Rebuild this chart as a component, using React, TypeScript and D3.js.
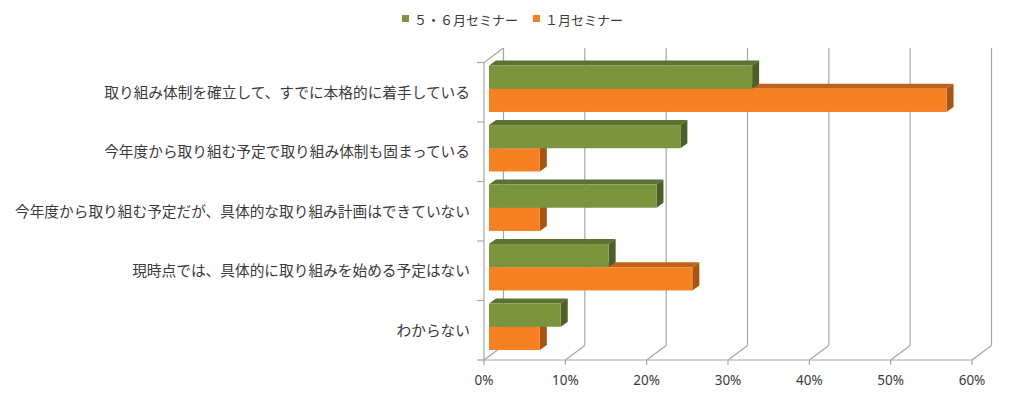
import React from "react";
import * as d3 from "d3";

const categories = [
  "取り組み体制を確立して、すでに本格的に着手している",
  "今年度から取り組む予定で取り組み体制も固まっている",
  "今年度から取り組む予定だが、具体的な取り組み計画はできていない",
  "現時点では、具体的に取り組みを始める予定はない",
  "わからない",
];
const seriesNames = ["５・６月セミナー", "１月セミナー"];
const mayJune = [32.35, 23.53, 20.59, 14.71, 8.82];
const january = [56.25, 6.25, 6.25, 25, 6.25];
const ticks = [0, 10, 20, 30, 40, 50, 60];

const colors = [
  { front: "#7A953D", top: "#5B7330", side: "#4B5F26" },
  { front: "#F68122", top: "#C2621A", side: "#A9540F" },
];

const W = 1024;
const H = 399;
const plot = { left: 484, right: 972, top: 62.5, bottom: 360 };
const depth = { dx: 19.5, dy: -14.5 };
const barFront = { dx: 5, dy: -3.5 };
const barDepth = { dx: 7, dy: -5 };
const gridColor = "#A6A6A6";
const textColor = "#3A3A3A";

export default function App() {
  const x = d3.scaleLinear().domain([0, 60]).range([plot.left, plot.right]);
  const y = d3
    .scaleBand<string>()
    .domain(categories)
    .range([plot.top, plot.bottom])
    .paddingInner(0.22)
    .paddingOuter(0.11);
  const sub = d3.scaleBand<number>().domain([0, 1]).range([0, y.bandwidth()]);
  const series = [mayJune, january];

  // category boundaries for left ticks
  const step = y.step();
  const bounds = d3.range(categories.length + 1).map((i) => plot.top + i * step);

  function bar(i: number, s: number) {
    const v = series[s][i];
    const x0 = x(0) + barFront.dx;
    const x1 = x(v) + barFront.dx;
    const y0 = (y(categories[i]) as number) + (sub(s) as number) + barFront.dy;
    const y1 = y0 + sub.bandwidth();
    const { dx, dy } = barDepth;
    const c = colors[s];
    return (
      <g key={`b${i}-${s}`}>
        <path
          d={`M${x0},${y0} L${x0 + dx},${y0 + dy} L${x1 + dx},${y0 + dy} L${x1},${y0} Z`}
          fill={c.top}
        />
        <path
          d={`M${x1},${y0} L${x1 + dx},${y0 + dy} L${x1 + dx},${y1 + dy} L${x1},${y1} Z`}
          fill={c.side}
        />
        <rect x={x0} y={y0} width={x1 - x0} height={y1 - y0} fill={c.front} />
      </g>
    );
  }

  return (
    <svg width={W} height={H} style={{ position: "absolute", left: 0, top: 0 }}>
      <rect width={W} height={H} fill="#fff" />
      {/* back wall gridlines */}
      {ticks.map((t) => (
        <line
          key={`g${t}`}
          x1={x(t) + depth.dx}
          x2={x(t) + depth.dx}
          y1={plot.bottom + depth.dy}
          y2={plot.top + depth.dy}
          stroke={gridColor}
          strokeWidth={1.2}
        />
      ))}
      {/* floor diagonals */}
      {ticks.map((t) => (
        <line
          key={`f${t}`}
          x1={x(t)}
          y1={plot.bottom}
          x2={x(t) + depth.dx}
          y2={plot.bottom + depth.dy}
          stroke={gridColor}
          strokeWidth={1.2}
        />
      ))}
      {/* left wall */}
      <line x1={plot.left} y1={plot.top} x2={plot.left + depth.dx} y2={plot.top + depth.dy} stroke={gridColor} strokeWidth={1.2} />
      <line x1={plot.left} y1={plot.top} x2={plot.left} y2={plot.bottom} stroke={gridColor} strokeWidth={1.2} />
      {bounds.map((b, i) => (
        <line key={`lt${i}`} x1={plot.left - 7} x2={plot.left} y1={b} y2={b} stroke={gridColor} strokeWidth={1.2} />
      ))}
      {/* bottom axis */}
      <line x1={plot.left - 2} x2={plot.right} y1={plot.bottom} y2={plot.bottom} stroke={gridColor} strokeWidth={1.2} />
      {ticks.map((t) => (
        <line key={`bt${t}`} x1={x(t)} x2={x(t)} y1={plot.bottom} y2={plot.bottom + 5} stroke={gridColor} strokeWidth={1.2} />
      ))}
      {ticks.map((t) => (
        <text
          key={`tl${t}`}
          x={x(t)}
          y={385}
          textAnchor="middle"
          fontSize={13.5}
          fontFamily="'Noto Sans', 'DejaVu Sans', sans-serif"
          fill={textColor}
        >
          {t}%
        </text>
      ))}
      {/* bars */}
      {categories.map((_, i) => [bar(i, 1), bar(i, 0)])}
      {/* category labels */}
      {categories.map((c) => (
        <text
          key={c}
          x={470}
          y={(y(c) as number) + y.bandwidth() / 2 - 1}
          dominantBaseline="central"
          textAnchor="end"
          fontSize={14.7}
          fontFamily="'Noto Sans CJK JP', sans-serif"
          fill={textColor}
        >
          {c}
        </text>
      ))}
      {/* legend */}
      {seriesNames.map((n, i) => {
        const lx = i === 0 ? 402 : 533;
        return (
          <g key={n}>
            <rect x={lx} y={15} width={7} height={7} fill={colors[i].front} />
            <text
              x={lx + 12}
              y={19}
              dominantBaseline="central"
              fontSize={13}
              fontFamily="'Noto Sans CJK JP', sans-serif"
              fill={textColor}
            >
              {n}
            </text>
          </g>
        );
      })}
    </svg>
  );
}
